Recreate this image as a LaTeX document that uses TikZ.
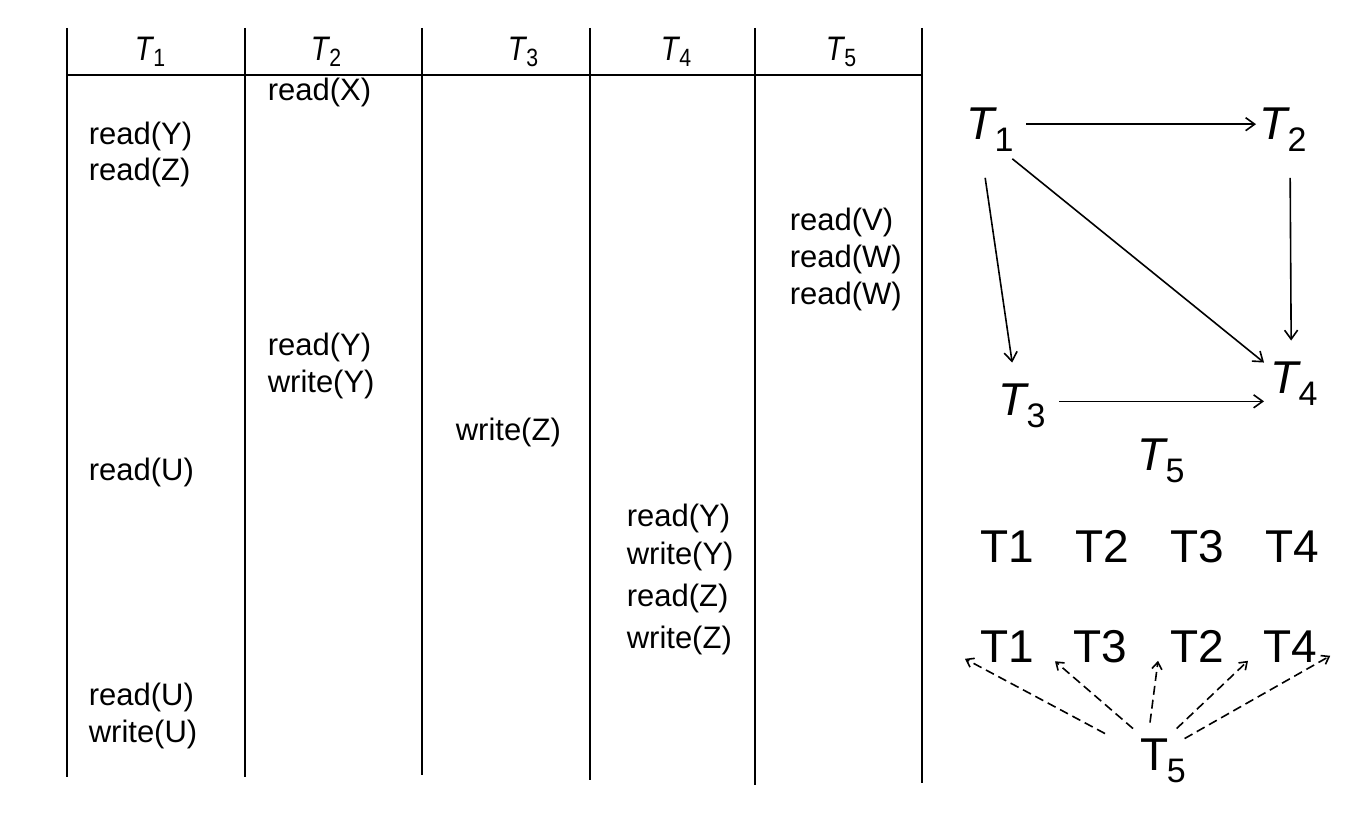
\documentclass[tikz,border=0pt]{standalone}
\usepackage{fontspec}
\setmainfont{Liberation Sans}
\usetikzlibrary{arrows.meta,calc}
\newcommand{\hT}[1]{\scalebox{0.85}[1]{\textit{T}\kern-1pt\raisebox{-6pt}{\fontsize{25}{28}\selectfont #1}}}
\newcommand{\gT}[1]{\textit{T}\kern-3pt\raisebox{-12pt}{\fontsize{34}{40}\selectfont #1}}
\begin{document}
\begin{tikzpicture}[x=1pt,y=1pt,line width=1.6pt,
    op/.style={anchor=base west, inner sep=0pt, font=\fontsize{31}{36}\selectfont},
    hd/.style={inner sep=0pt, font=\fontsize{34}{38}\selectfont},
    gn/.style={anchor=base west, inner sep=0pt, font=\fontsize{46}{52}\selectfont},
    edge/.style={-{Straight Barb[length=9pt,width=13pt]}},
    dep/.style={-{Straight Barb[length=7pt,width=10pt]}, dash pattern=on 9pt off 5pt}]
  \useasboundingbox (0,0) rectangle (1347,-821);
  % schedule table
  \foreach \x/\b in {67/777,245/777,422/775,590/780,755/785,922/783}
    \draw (\x,-28) -- (\x,-\b);
  \draw (67,-75) -- (922,-75);
  \node[hd] (h1) at (150,-52) {\hT{1}};
  \node[hd] (h2) at (326,-52) {\hT{2}};
  \node[hd] (h3) at (523,-52) {\hT{3}};
  \node[hd] (h4) at (676,-52) {\hT{4}};
  \node[hd] (h5) at (841,-52) {\hT{5}};
  \node[op] (b1) at (267,-101) {read(X)};
  \node[op] (a1) at (88,-145) {read(Y)};
  \node[op] (a2) at (88,-181) {read(Z)};
  \node[op] (e1) at (789,-231) {read(V)};
  \node[op] (e2) at (789,-267) {read(W)};
  \node[op] (e3) at (789,-304) {read(W)};
  \node[op] (b2) at (267,-355) {read(Y)};
  \node[op] (b3) at (267,-392) {write(Y)};
  \node[op] (c1) at (455,-440) {write(Z)};
  \node[op] (a3) at (88,-480) {read(U)};
  \node[op] (d1) at (626,-526) {read(Y)};
  \node[op] (d2) at (626,-564) {write(Y)};
  \node[op] (d3) at (626,-606) {read(Z)};
  \node[op] (d4) at (626,-648) {write(Z)};
  \node[op] (a4) at (88,-705) {read(U)};
  \node[op] (a5) at (88,-742) {write(U)};
  % precedence graph
  \node[gn] (g1) at (966,-140) {\gT{1}};
  \node[gn] (g2) at (1259,-140) {\gT{2}};
  \node[gn] (g3) at (998,-415) {\gT{3}};
  \node[gn] (g4) at (1270,-393) {\gT{4}};
  \node[gn] (g5) at (1137,-470) {\gT{5}};
  \draw[edge, shorten <=12pt, shorten >=3pt] ($(g1.east)+(0,6)$) -- ($(g2.west)+(0,6)$);
  \draw[edge] ([shift={(-5pt,-25pt)}]g1.south) -- ([shift={(-10pt,20pt)}]g3.north);
  \draw[edge] ([shift={(-2pt,-6pt)}]g1.south east) -- ([shift={(-6pt,-2pt)}]g4.north west);
  \draw[edge] ([shift={(7pt,-25pt)}]g2.south) -- ([shift={(-3pt,20pt)}]g4.north);
  \draw[edge, shorten <=13pt, shorten >=6pt] ($(g3.east)+(0,4)$) -- ($(g3.east -| g4.west)+(0,4)$);
  % orders
  \node[gn] (r1) at (980,-562) {T1};
  \node[gn] (r2) at (1075,-562) {T2};
  \node[gn] (r3) at (1170,-562) {T3};
  \node[gn] (r4) at (1265,-562) {T4};
  \node[gn] (s1) at (980,-662) {T1};
  \node[gn] (s3) at (1073,-662) {T3};
  \node[gn] (s2) at (1170,-662) {T2};
  \node[gn] (s4) at (1263,-662) {T4};
  \node[gn] (t5) at (1140,-770) {T\kern-2pt\raisebox{-12pt}{\fontsize{34}{40}\selectfont 5}};
  \draw[dep] ([shift={(-35pt,4pt)}]t5.north west) -- ([shift={(-15pt,4pt)}]s1.south west);
  \draw[dep] ([shift={(-7pt,9pt)}]t5.north west) -- ([shift={(-18pt,2pt)}]s3.south west);
  \draw[dep] ([shift={(10pt,15pt)}]t5.north west) -- ([shift={(-12pt,2pt)}]s2.south west);
  \draw[dep] ([shift={(-10pt,9pt)}]t5.north east) -- ([shift={(-15pt,2pt)}]s4.south west);
  \draw[dep] ([shift={(-2pt,-1pt)}]t5.north east) -- ([shift={(12pt,7pt)}]s4.south east);
\end{tikzpicture}
\end{document}
